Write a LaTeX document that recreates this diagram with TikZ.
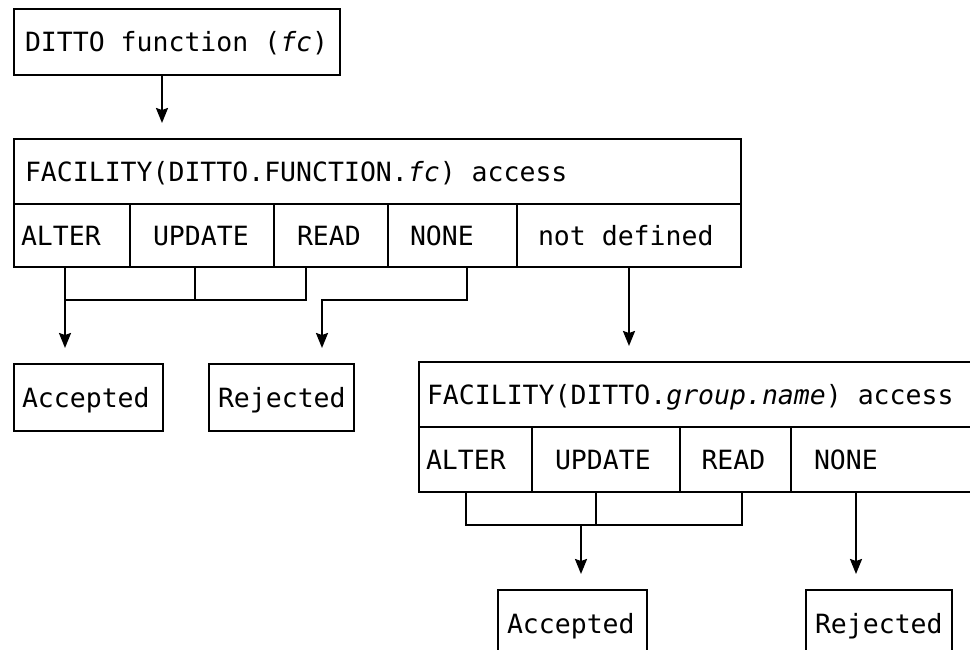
\documentclass[tikz,border=0pt]{standalone}
\usepackage{fontspec}
\setmonofont{DejaVu Sans Mono}[WordSpace={1,0,0}]
\usetikzlibrary{
    arrows.meta
}

\tikzset{
    cell/.style={draw, anchor=north west, outer sep=0pt, align=flush left, text height=19pt, text depth=0pt},
    flow/.style={-{Stealth[length=15pt, width=12pt, inset=2pt]}, shorten >=16pt}
}

\begin{document}
\begin{tikzpicture}[x=1pt, y=-1pt, line width=2pt, font=\ttfamily\fontsize{26.5}{32}\selectfont]
                        \useasboundingbox (0, 0) rectangle (970, 649);
                        \clip (0, 0) rectangle (970, 649);

                        \node[cell, minimum height=66pt, inner xsep=11pt, text width=304pt] (ditto) at (14, 9) {DITTO function (\textit{fc})};

                        \node[cell, minimum height=65pt, inner xsep=11pt, text width=705pt] (head1) at (14, 139) {FACILITY(DITTO.FUNCTION.\textit{fc}) access};
                        \node[cell, minimum height=63pt, inner xsep=7pt, text width=102pt] (alter1) at (14, 204) {ALTER};
                        \node[cell, minimum height=63pt, inner xsep=23pt, text width=98pt] (upd1) at (130, 204) {UPDATE};
                        \node[cell, minimum height=63pt, inner xsep=23pt, text width=68pt] (read1) at (274, 204) {READ};
                        \node[cell, minimum height=63pt, inner xsep=22pt, text width=85pt] (none1) at (388, 204) {NONE};
                        \node[cell, minimum height=63pt, inner xsep=21pt, text width=182pt] (undef1) at (517, 204) {not defined};

                        \node[cell, minimum height=67pt, inner xsep=8pt, text width=133pt] (acc1) at (14, 364) {Accepted};
                        \node[cell, minimum height=67pt, inner xsep=9pt, text width=127pt] (rej1) at (209, 364) {Rejected};

                        \node[cell, minimum height=65pt, inner xsep=8pt, text width=565pt] (head2) at (419, 362) {FACILITY(DITTO.\textit{group.name}) access};
                        \node[cell, minimum height=65pt, inner xsep=7pt, text width=99pt] (alter2) at (419, 427) {ALTER};
                        \node[cell, minimum height=65pt, inner xsep=23pt, text width=102pt] (upd2) at (532, 427) {UPDATE};
                        \node[cell, minimum height=65pt, inner xsep=21.5pt, text width=68pt] (read2) at (680, 427) {READ};
                        \node[cell, minimum height=65pt, inner xsep=23pt, text width=163pt] (none2) at (791, 427) {NONE};

                        \node[cell, minimum height=67pt, inner xsep=9pt, text width=131pt] (acc2) at (498, 590) {Accepted};
                        \node[cell, minimum height=67pt, inner xsep=9pt, text width=128pt] (rej2) at (806, 590) {Rejected};

                        \coordinate (dittox) at (162, 75);
                        \coordinate (bus1l) at (65, 300);
                        \coordinate (bus1m) at (195, 300);
                        \coordinate (bus1r) at (306, 300);
                        \coordinate (nb1r) at (467, 300);
                        \coordinate (nb1l) at (322, 300);
                        \coordinate (bus2l) at (466, 525);
                        \coordinate (bus2m) at (596, 525);
                        \coordinate (bus2r) at (742, 525);
                        \coordinate (drop2) at (581, 525);
                        \coordinate (nb2) at (856, 525);

                        \draw[flow] (ditto.south -| dittox) -- (head1.north -| dittox);

                        \draw
                        (alter1.south -| bus1l) -- (bus1l) -- (bus1r) -- (read1.south -| bus1r)
                        (upd1.south -| bus1m) -- (bus1m);
                        \draw[flow] (bus1l) -- (acc1.north -| bus1l);
                        \draw[flow] (none1.south -| nb1r) -- (nb1r) -- (nb1l) -- (rej1.north -| nb1l);
                        \draw[flow] (undef1.south) -- (head2.north -| undef1.south);

                        \draw
                        (alter2.south -| bus2l) -- (bus2l) -- (bus2r) -- (read2.south -| bus2r)
                        (upd2.south -| bus2m) -- (bus2m);
                        \draw[flow] (drop2) -- (acc2.north -| drop2);
                        \draw[flow] (none2.south -| nb2) -- (rej2.north -| nb2);
                    \end{tikzpicture}
\end{document}
